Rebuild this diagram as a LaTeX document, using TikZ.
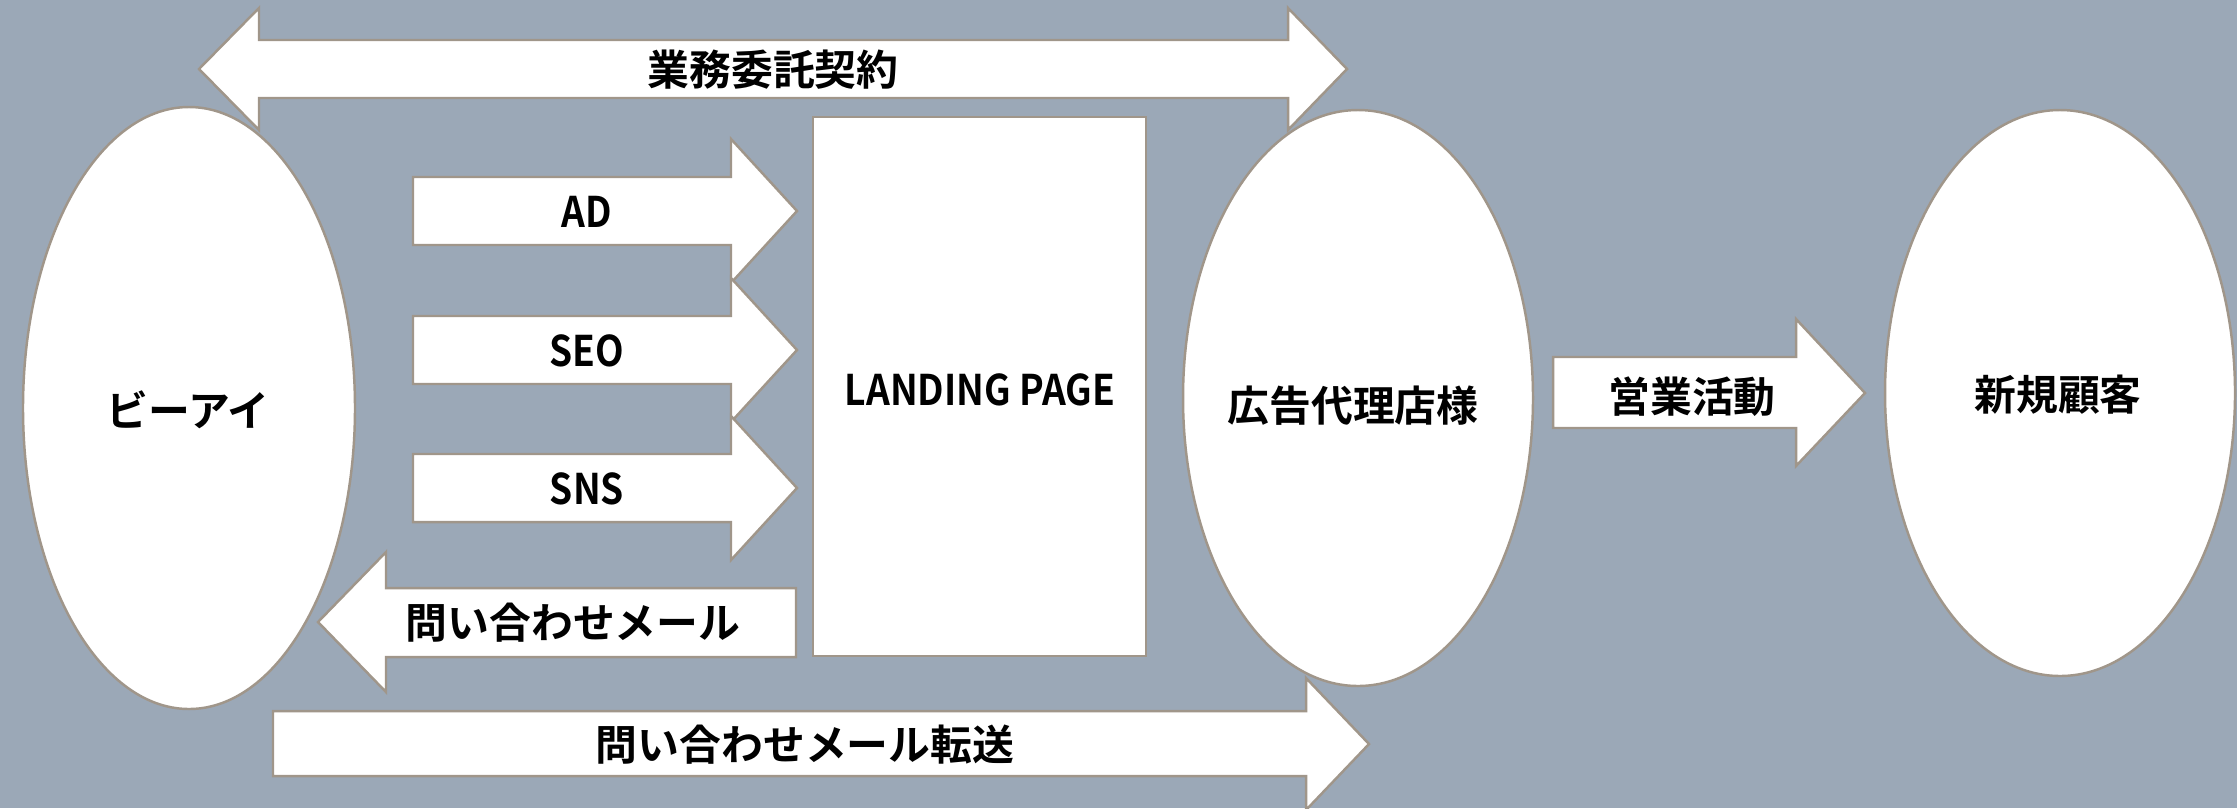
\documentclass[tikz,border=0pt]{standalone}
\usepackage{fontspec}
\setmainfont{Noto Sans CJK JP}
\newfontfamily\jpbold{Noto Sans CJK JP Bold}
\newfontfamily\latb{Noto Sans CJK JP Bold}[FakeStretch=0.88]
\definecolor{bgc}{HTML}{9BA8B7}
\definecolor{edgec}{HTML}{A0968A}
\begin{document}
\begin{tikzpicture}[x=0.01cm,y=-0.01cm,
  shapeb/.style={fill=white,draw=edgec,line width=0.7pt,line join=miter},
  jlabel/.style={font=\jpbold\fontsize{11.9pt}{12pt}\selectfont,text=black,inner sep=0pt,anchor=center},
  llabel/.style={font=\latb\fontsize{12pt}{13pt}\selectfont,text=black,inner sep=0pt,anchor=center}]
\fill[bgc] (0,0) rectangle (2237,808);
\useasboundingbox (0,0) rectangle (2237,808);
% top double arrow
\draw[shapeb] (199,69) -- (259,8) -- (259,40) -- (1288,40) -- (1288,8) -- (1347,69) -- (1288,130) -- (1288,98) -- (259,98) -- (259,130) -- cycle;
% AD, SEO, SNS arrows
\foreach \c in {211,350,488}{
  \draw[shapeb] (413,\c-34) -- (731,\c-34) -- (731,\c-72) -- (797,\c) -- (731,\c+72) -- (731,\c+34) -- (413,\c+34) -- cycle;
}
% inquiry mail arrow (left)
\draw[shapeb] (796,588) -- (386,588) -- (386,552) -- (318,622) -- (386,692) -- (386,657) -- (796,657) -- cycle;
% sales arrow
\draw[shapeb] (1553,357) -- (1796,357) -- (1796,319) -- (1865,393) -- (1796,466) -- (1796,428) -- (1553,428) -- cycle;
% bottom forward arrow
\draw[shapeb] (273,711) -- (1306,711) -- (1306,678) -- (1369,744) -- (1306,810) -- (1306,776) -- (273,776) -- cycle;
% landing page
\node[shapeb,rectangle,inner sep=0pt,minimum width=3.33cm,minimum height=5.39cm] (lpbox) at (979.5,386.5) {};
% ellipses
\draw[shapeb] (189,408) ellipse [x radius=166,y radius=301];
\draw[shapeb] (1358,398) ellipse [x radius=175,y radius=288];
\draw[shapeb] (2060,393) ellipse [x radius=175,y radius=283];
% labels
\node[jlabel] (contract) at (773,70) {業務委託契約};
\node[llabel] (ad) at (587,212) {AD};
\node[llabel] (seo) at (587,351) {SEO};
\node[llabel] (sns) at (587,489) {SNS};
\node[llabel] (lp) at (980,390) {LANDING PAGE};
\node[jlabel] (bi) at (188,410) {ビーアイ};
\node[jlabel] (mail) at (573,623) {問い合わせメール};
\node[jlabel] (agency) at (1353,406) {広告代理店様};
\node[jlabel] (sales) at (1692,397) {営業活動};
\node[jlabel] (newc) at (2058,395) {新規顧客};
\node[jlabel] (fwd) at (805,745) {問い合わせメール転送};
\end{tikzpicture}
\end{document}
